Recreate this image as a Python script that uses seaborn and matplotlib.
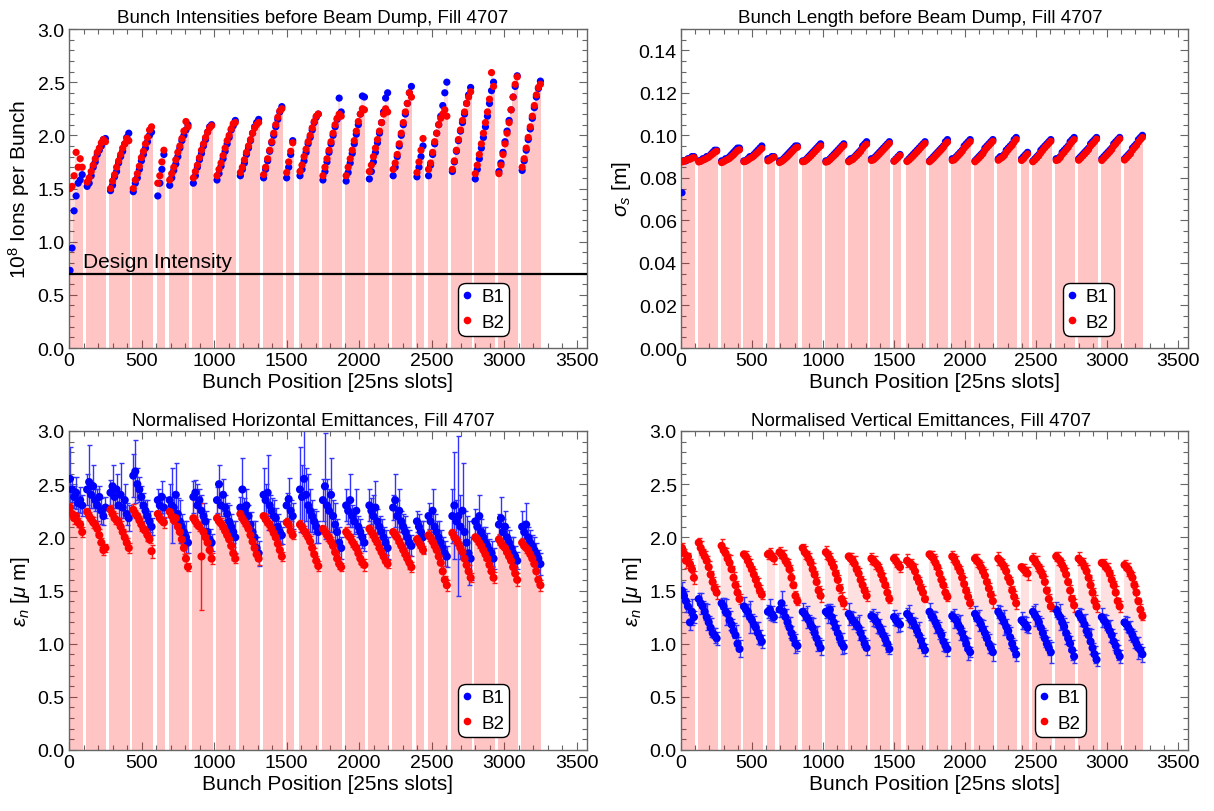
import numpy as np
import pandas as pd
import matplotlib
matplotlib.use("Agg")
import matplotlib.pyplot as plt
from matplotlib.lines import Line2D
from matplotlib.ticker import MultipleLocator
import seaborn as sns

# ---------------------------------------------------------------------------
# Filling scheme of fill 4707: first 25 ns slot of every train and the number
# of bunches in it; bunches inside a train sit BUNCH_STEP slots apart.
# ---------------------------------------------------------------------------
TRAIN_START = [7, 125, 286, 443, 612, 694, 857, 1020, 1181, 1341, 1500,
               1592, 1750, 1910, 2070, 2234, 2398, 2478, 2642, 2800, 2963, 3123]
TRAIN_BUNCHES = [7, 10, 10, 10, 4, 10, 10, 10, 10, 10, 4,
                 10, 10, 10, 10, 10, 4, 10, 10, 10, 10, 10]
BUNCH_STEP = 14

DESIGN_INTENSITY = 0.7

# Bunch intensities before dump [1e8 ions], one list per train
INTENSITY_B1 = [
    [0.73, 0.94, 1.29, 1.43, 1.55, 1.58, 1.63],
    [1.52, 1.55, 1.62, 1.70, 1.75, 1.82, 1.86, 1.90, 1.96, 1.97],
    [1.48, 1.53, 1.61, 1.66, 1.74, 1.80, 1.85, 1.92, 1.98, 2.02],
    [1.47, 1.55, 1.60, 1.68, 1.76, 1.82, 1.88, 1.94, 2.00, 2.03],
    [1.43, 1.55, 1.68, 1.82],
    [1.53, 1.60, 1.67, 1.73, 1.80, 1.88, 1.95, 2.00, 2.05, 2.10],
    [1.55, 1.62, 1.70, 1.77, 1.83, 1.90, 1.96, 2.03, 2.08, 2.10],
    [1.58, 1.64, 1.71, 1.78, 1.85, 1.92, 1.98, 2.05, 2.09, 2.14],
    [1.62, 1.68, 1.74, 1.82, 1.88, 1.95, 2.02, 2.08, 2.12, 2.15],
    [1.60, 1.68, 1.76, 1.85, 1.93, 2.00, 2.08, 2.15, 2.22, 2.27],
    [1.60, 1.70, 1.82, 1.95],
    [1.62, 1.68, 1.76, 1.84, 1.92, 1.98, 2.05, 2.12, 2.17, 2.20],
    [1.58, 1.66, 1.75, 1.84, 1.92, 2.00, 2.08, 2.15, 2.35, 2.22],
    [1.57, 1.65, 1.74, 1.83, 1.92, 2.01, 2.10, 2.20, 2.37, 2.36],
    [1.59, 1.66, 1.75, 1.84, 1.93, 2.02, 2.12, 2.22, 2.35, 2.40],
    [1.62, 1.70, 1.80, 1.90, 2.00, 2.10, 2.20, 2.30, 2.40, 2.46],
    [1.61, 1.70, 1.80, 1.90],
    [1.62, 1.72, 1.82, 1.92, 2.02, 2.10, 2.18, 2.28, 2.40, 2.50],
    [1.66, 1.75, 1.85, 1.95, 2.04, 2.12, 2.20, 2.30, 2.38, 2.45],
    [1.59, 1.68, 1.78, 1.88, 1.98, 2.08, 2.18, 2.30, 2.42, 2.50],
    [1.66, 1.74, 1.84, 1.94, 2.04, 2.14, 2.24, 2.36, 2.46, 2.56],
    [1.67, 1.76, 1.86, 1.96, 2.06, 2.16, 2.26, 2.36, 2.44, 2.51],
]
INTENSITY_B2 = [
    [1.50, 1.52, 1.62, 1.84, 1.70, 1.78, 1.70],
    [1.56, 1.60, 1.66, 1.72, 1.78, 1.84, 1.88, 1.93, 1.96, 1.94],
    [1.50, 1.57, 1.63, 1.70, 1.76, 1.82, 1.88, 1.92, 1.97, 1.95],
    [1.50, 1.58, 1.64, 1.71, 1.79, 1.85, 1.92, 1.98, 2.05, 2.08],
    [1.55, 1.62, 1.75, 1.86],
    [1.58, 1.64, 1.70, 1.77, 1.84, 1.90, 1.97, 2.04, 2.13, 2.08],
    [1.60, 1.66, 1.72, 1.79, 1.86, 1.92, 1.98, 2.03, 2.07, 2.09],
    [1.62, 1.68, 1.74, 1.81, 1.88, 1.95, 2.00, 2.06, 2.11, 2.12],
    [1.65, 1.70, 1.77, 1.84, 1.90, 1.96, 2.02, 2.07, 2.10, 2.12],
    [1.63, 1.70, 1.78, 1.86, 1.94, 2.02, 2.10, 2.17, 2.23, 2.25],
    [1.65, 1.75, 1.85, 1.93],
    [1.66, 1.72, 1.80, 1.87, 1.94, 2.00, 2.07, 2.13, 2.18, 2.20],
    [1.62, 1.70, 1.78, 1.86, 1.94, 2.02, 2.10, 2.16, 2.20, 2.18],
    [1.62, 1.70, 1.78, 1.86, 1.95, 2.04, 2.13, 2.20, 2.25, 2.24],
    [1.66, 1.72, 1.80, 1.88, 1.96, 2.04, 2.12, 2.20, 2.25, 2.22],
    [1.68, 1.74, 1.82, 1.92, 2.02, 2.12, 2.22, 2.30, 2.40, 2.36],
    [1.65, 1.75, 1.86, 1.97],
    [1.68, 1.74, 1.84, 1.94, 2.02, 2.10, 2.16, 2.20, 2.24, 2.18],
    [1.68, 1.76, 1.86, 1.96, 2.05, 2.14, 2.22, 2.30, 2.36, 2.41],
    [1.64, 1.72, 1.82, 1.92, 2.02, 2.12, 2.22, 2.34, 2.59, 2.46],
    [1.64, 1.72, 1.82, 1.92, 2.02, 2.12, 2.24, 2.36, 2.48, 2.55],
    [1.70, 1.78, 1.88, 1.98, 2.08, 2.18, 2.28, 2.38, 2.45, 2.48],
]

# Bunch length sigma_s [m]
LENGTH_B1 = [
    [0.073, 0.088, 0.088, 0.089, 0.089, 0.090, 0.090],
    [0.088, 0.088, 0.089, 0.089, 0.090, 0.090, 0.091, 0.092, 0.093, 0.093],
    [0.088, 0.088, 0.089, 0.089, 0.090, 0.091, 0.092, 0.093, 0.094, 0.094],
    [0.088, 0.088, 0.089, 0.090, 0.090, 0.091, 0.092, 0.093, 0.094, 0.095],
    [0.089, 0.089, 0.090, 0.090],
    [0.088, 0.088, 0.089, 0.090, 0.091, 0.092, 0.093, 0.094, 0.095, 0.095],
    [0.088, 0.088, 0.089, 0.090, 0.091, 0.092, 0.093, 0.094, 0.095, 0.096],
    [0.088, 0.088, 0.089, 0.090, 0.091, 0.092, 0.093, 0.094, 0.095, 0.096],
    [0.088, 0.089, 0.089, 0.090, 0.091, 0.092, 0.093, 0.095, 0.096, 0.097],
    [0.089, 0.089, 0.090, 0.091, 0.092, 0.093, 0.094, 0.095, 0.096, 0.097],
    [0.088, 0.089, 0.090, 0.091],
    [0.088, 0.089, 0.090, 0.091, 0.092, 0.093, 0.094, 0.095, 0.096, 0.097],
    [0.088, 0.089, 0.090, 0.091, 0.092, 0.093, 0.094, 0.095, 0.097, 0.098],
    [0.089, 0.089, 0.090, 0.091, 0.092, 0.093, 0.095, 0.096, 0.097, 0.098],
    [0.088, 0.089, 0.090, 0.091, 0.092, 0.094, 0.095, 0.096, 0.097, 0.098],
    [0.089, 0.090, 0.090, 0.091, 0.093, 0.094, 0.095, 0.096, 0.098, 0.099],
    [0.089, 0.090, 0.091, 0.092],
    [0.088, 0.089, 0.090, 0.091, 0.093, 0.094, 0.095, 0.096, 0.097, 0.098],
    [0.089, 0.089, 0.090, 0.092, 0.093, 0.094, 0.095, 0.097, 0.098, 0.099],
    [0.089, 0.090, 0.091, 0.092, 0.093, 0.094, 0.096, 0.097, 0.098, 0.099],
    [0.089, 0.090, 0.091, 0.092, 0.093, 0.094, 0.096, 0.097, 0.098, 0.099],
    [0.089, 0.090, 0.091, 0.092, 0.094, 0.095, 0.096, 0.098, 0.099, 0.100],
]
LENGTH_B2 = [
    [0.0875, 0.0878, 0.0882, 0.0885, 0.0888, 0.0893, 0.0895],
    [0.0875, 0.0878, 0.0883, 0.0887, 0.0892, 0.0897, 0.0905, 0.0912, 0.0920, 0.0925],
    [0.0872, 0.0876, 0.0882, 0.0886, 0.0892, 0.0900, 0.0908, 0.0918, 0.0928, 0.0932],
    [0.0876, 0.0879, 0.0884, 0.0891, 0.0896, 0.0903, 0.0912, 0.0920, 0.0930, 0.0938],
    [0.0880, 0.0885, 0.0892, 0.0897],
    [0.0872, 0.0877, 0.0884, 0.0892, 0.0900, 0.0910, 0.0920, 0.0930, 0.0940, 0.0944],
    [0.0876, 0.0878, 0.0885, 0.0893, 0.0902, 0.0912, 0.0922, 0.0932, 0.0942, 0.0950],
    [0.0874, 0.0877, 0.0885, 0.0894, 0.0903, 0.0912, 0.0922, 0.0933, 0.0943, 0.0952],
    [0.0876, 0.0882, 0.0886, 0.0895, 0.0904, 0.0913, 0.0924, 0.0938, 0.0950, 0.0958],
    [0.0882, 0.0885, 0.0893, 0.0902, 0.0912, 0.0922, 0.0932, 0.0942, 0.0952, 0.0962],
    [0.0878, 0.0886, 0.0895, 0.0905],
    [0.0877, 0.0884, 0.0893, 0.0902, 0.0912, 0.0922, 0.0932, 0.0943, 0.0953, 0.0962],
    [0.0876, 0.0884, 0.0893, 0.0903, 0.0913, 0.0923, 0.0933, 0.0944, 0.0958, 0.0968],
    [0.0882, 0.0885, 0.0894, 0.0904, 0.0914, 0.0925, 0.0940, 0.0950, 0.0960, 0.0970],
    [0.0876, 0.0884, 0.0893, 0.0903, 0.0914, 0.0930, 0.0942, 0.0952, 0.0962, 0.0972],
    [0.0883, 0.0890, 0.0896, 0.0905, 0.0920, 0.0932, 0.0943, 0.0953, 0.0968, 0.0980],
    [0.0882, 0.0890, 0.0902, 0.0912],
    [0.0876, 0.0884, 0.0894, 0.0904, 0.0918, 0.0930, 0.0942, 0.0952, 0.0962, 0.0972],
    [0.0882, 0.0885, 0.0895, 0.0910, 0.0920, 0.0932, 0.0943, 0.0958, 0.0970, 0.0980],
    [0.0883, 0.0892, 0.0902, 0.0912, 0.0922, 0.0933, 0.0950, 0.0960, 0.0970, 0.0982],
    [0.0882, 0.0892, 0.0902, 0.0912, 0.0922, 0.0933, 0.0950, 0.0960, 0.0972, 0.0983],
    [0.0884, 0.0893, 0.0903, 0.0913, 0.0930, 0.0942, 0.0952, 0.0968, 0.0980, 0.0990],
]

# Normalised horizontal emittance [um] and its uncertainty
EMIT_H_B1 = [
    [2.55, 2.45, 2.38, 2.42, 2.32, 2.35, 2.30],
    [2.45, 2.52, 2.40, 2.48, 2.35, 2.30, 2.38, 2.25, 2.20, 2.28],
    [2.42, 2.48, 2.38, 2.45, 2.30, 2.40, 2.28, 2.35, 2.22, 2.18],
    [2.58, 2.62, 2.50, 2.45, 2.38, 2.30, 2.25, 2.20, 2.15, 2.10],
    [2.35, 2.30, 2.38, 2.28],
    [2.35, 2.30, 2.28, 2.40, 2.22, 2.15, 2.10, 2.05, 2.00, 1.95],
    [2.38, 2.42, 2.30, 2.35, 2.25, 2.20, 2.15, 2.05, 1.98, 1.95],
    [2.35, 2.50, 2.30, 2.40, 2.28, 2.22, 2.15, 2.10, 2.05, 2.00],
    [2.28, 2.45, 2.25, 2.30, 2.20, 2.12, 2.05, 2.00, 1.90, 1.85],
    [2.40, 2.35, 2.42, 2.30, 2.25, 2.20, 2.18, 2.10, 2.05, 2.02],
    [2.30, 2.36, 2.25, 2.20],
    [2.45, 2.38, 2.55, 2.40, 2.30, 2.25, 2.20, 2.15, 2.10, 2.05],
    [2.35, 2.48, 2.30, 2.25, 2.40, 2.20, 2.12, 2.05, 1.95, 1.90],
    [2.30, 2.25, 2.35, 2.20, 2.15, 2.25, 2.10, 2.05, 2.00, 1.95],
    [2.30, 2.25, 2.20, 2.28, 2.15, 2.10, 2.05, 2.00, 1.95, 1.90],
    [2.28, 2.35, 2.20, 2.25, 2.15, 2.10, 2.05, 2.00, 1.95, 1.92],
    [2.15, 2.10, 2.05, 2.00],
    [2.20, 2.15, 2.25, 2.10, 2.05, 2.00, 1.95, 1.90, 1.85, 1.82],
    [2.20, 2.30, 2.15, 2.20, 2.10, 2.25, 2.05, 1.95, 1.85, 1.80],
    [2.15, 2.10, 2.20, 2.05, 2.00, 1.95, 1.92, 1.88, 1.85, 1.80],
    [2.12, 2.18, 2.05, 2.10, 2.00, 1.95, 1.90, 1.85, 1.82, 1.78],
    [2.10, 2.05, 2.12, 2.00, 1.95, 1.92, 1.88, 1.85, 1.80, 1.75],
]
EMIT_H_B1_ERR = [
    [0.30, 0.12, 0.10, 0.15, 0.08, 0.12, 0.10],
    [0.15, 0.35, 0.12, 0.20, 0.10, 0.15, 0.10, 0.12, 0.08, 0.10],
    [0.12, 0.20, 0.10, 0.15, 0.12, 0.30, 0.10, 0.15, 0.10, 0.12],
    [0.20, 0.30, 0.15, 0.12, 0.10, 0.12, 0.10, 0.15, 0.10, 0.08],
    [0.10, 0.12, 0.15, 0.10],
    [0.15, 0.35, 0.12, 0.30, 0.15, 0.20, 0.12, 0.10, 0.15, 0.10],
    [0.15, 0.12, 0.20, 0.10, 0.15, 0.12, 0.10, 0.12, 0.10, 0.08],
    [0.12, 0.18, 0.10, 0.15, 0.12, 0.10, 0.15, 0.12, 0.10, 0.15],
    [0.10, 0.30, 0.12, 0.15, 0.10, 0.12, 0.10, 0.15, 0.10, 0.12],
    [0.25, 0.15, 0.35, 0.10, 0.12, 0.15, 0.10, 0.12, 0.10, 0.08],
    [0.12, 0.20, 0.10, 0.12],
    [0.40, 0.30, 0.50, 0.25, 0.30, 0.20, 0.15, 0.12, 0.15, 0.10],
    [0.20, 0.50, 0.25, 0.20, 0.35, 0.15, 0.20, 0.12, 0.15, 0.10],
    [0.15, 0.12, 0.25, 0.10, 0.12, 0.20, 0.10, 0.12, 0.10, 0.08],
    [0.15, 0.12, 0.20, 0.25, 0.12, 0.10, 0.12, 0.10, 0.12, 0.10],
    [0.12, 0.25, 0.15, 0.20, 0.10, 0.12, 0.15, 0.10, 0.12, 0.10],
    [0.10, 0.12, 0.10, 0.15],
    [0.12, 0.10, 0.20, 0.12, 0.10, 0.15, 0.12, 0.10, 0.12, 0.10],
    [0.25, 0.50, 0.20, 0.75, 0.30, 0.45, 0.20, 0.25, 0.30, 0.20],
    [0.12, 0.10, 0.20, 0.12, 0.10, 0.15, 0.12, 0.10, 0.12, 0.10],
    [0.10, 0.20, 0.12, 0.15, 0.10, 0.12, 0.10, 0.15, 0.10, 0.08],
    [0.15, 0.10, 0.20, 0.10, 0.12, 0.10, 0.12, 0.10, 0.08, 0.10],
]
EMIT_H_B2 = [
    [2.28, 2.22, 2.18, 2.20, 2.14, 2.12, 2.05],
    [2.24, 2.20, 2.17, 2.14, 2.12, 2.08, 2.02, 1.95, 1.88, 1.90],
    [2.26, 2.22, 2.18, 2.16, 2.14, 2.10, 2.05, 2.00, 1.95, 1.90],
    [2.26, 2.22, 2.20, 2.16, 2.12, 2.08, 2.06, 2.02, 1.98, 1.87],
    [2.22, 2.18, 2.16, 2.14],
    [2.24, 2.20, 2.16, 2.18, 2.10, 2.05, 1.98, 1.90, 1.80, 1.72],
    [2.18, 2.15, 2.12, 2.10, 1.82, 2.05, 2.00, 1.95, 1.88, 1.80],
    [2.18, 2.15, 2.13, 2.10, 2.06, 2.02, 1.98, 1.92, 1.85, 1.80],
    [2.22, 2.18, 2.15, 2.12, 2.08, 2.02, 1.96, 1.90, 1.84, 1.80],
    [2.20, 2.17, 2.14, 2.12, 2.08, 2.04, 2.00, 1.94, 1.88, 1.82],
    [2.14, 2.12, 2.06, 2.02],
    [2.12, 2.10, 2.06, 2.04, 2.00, 1.96, 1.90, 1.84, 1.78, 1.73],
    [2.08, 2.05, 2.02, 2.00, 1.96, 1.92, 1.86, 1.80, 1.75, 1.72],
    [2.05, 2.02, 2.00, 1.96, 1.93, 1.90, 1.85, 1.80, 1.76, 1.74],
    [2.08, 2.05, 2.02, 1.98, 1.95, 1.90, 1.86, 1.82, 1.78, 1.75],
    [2.05, 2.02, 2.00, 1.96, 1.92, 1.88, 1.84, 1.80, 1.76, 1.72],
    [1.98, 1.95, 1.92, 1.88],
    [2.02, 2.00, 1.96, 1.92, 1.88, 1.82, 1.76, 1.68, 1.60, 1.55],
    [2.04, 2.00, 1.98, 1.94, 1.90, 1.86, 1.80, 1.74, 1.68, 1.62],
    [2.00, 1.98, 1.95, 1.92, 1.88, 1.84, 1.80, 1.74, 1.68, 1.62],
    [1.98, 1.95, 1.92, 1.90, 1.86, 1.82, 1.78, 1.72, 1.66, 1.60],
    [1.95, 1.92, 1.90, 1.88, 1.84, 1.80, 1.75, 1.68, 1.60, 1.55],
]
EMIT_H_B2_ERR = [
    [0.04, 0.03, 0.05, 0.03, 0.04, 0.03, 0.05],
    [0.03, 0.04, 0.03, 0.05, 0.03, 0.04, 0.06, 0.04, 0.05, 0.04],
    [0.04, 0.03, 0.05, 0.03, 0.04, 0.05, 0.03, 0.06, 0.04, 0.05],
    [0.05, 0.04, 0.03, 0.04, 0.06, 0.03, 0.04, 0.05, 0.03, 0.06],
    [0.03, 0.04, 0.03, 0.05],
    [0.04, 0.05, 0.03, 0.04, 0.03, 0.05, 0.04, 0.06, 0.05, 0.04],
    [0.03, 0.04, 0.03, 0.04, 0.50, 0.04, 0.03, 0.05, 0.04, 0.05],
    [0.04, 0.03, 0.05, 0.04, 0.03, 0.04, 0.05, 0.03, 0.06, 0.04],
    [0.05, 0.03, 0.04, 0.03, 0.05, 0.04, 0.03, 0.05, 0.04, 0.06],
    [0.03, 0.05, 0.04, 0.03, 0.04, 0.06, 0.04, 0.03, 0.05, 0.04],
    [0.04, 0.03, 0.05, 0.04],
    [0.04, 0.03, 0.05, 0.04, 0.03, 0.05, 0.04, 0.06, 0.04, 0.05],
    [0.03, 0.04, 0.05, 0.03, 0.04, 0.03, 0.06, 0.04, 0.05, 0.04],
    [0.05, 0.04, 0.03, 0.05, 0.04, 0.03, 0.04, 0.05, 0.04, 0.06],
    [0.04, 0.05, 0.03, 0.04, 0.05, 0.04, 0.03, 0.06, 0.05, 0.04],
    [0.03, 0.04, 0.05, 0.03, 0.04, 0.05, 0.04, 0.03, 0.06, 0.05],
    [0.04, 0.05, 0.03, 0.04],
    [0.05, 0.03, 0.04, 0.05, 0.03, 0.04, 0.06, 0.05, 0.04, 0.05],
    [0.04, 0.05, 0.03, 0.04, 0.05, 0.03, 0.04, 0.05, 0.06, 0.04],
    [0.03, 0.04, 0.05, 0.04, 0.03, 0.05, 0.04, 0.06, 0.04, 0.05],
    [0.05, 0.04, 0.03, 0.05, 0.04, 0.03, 0.05, 0.04, 0.05, 0.06],
    [0.04, 0.03, 0.05, 0.04, 0.03, 0.04, 0.05, 0.06, 0.04, 0.05],
]

# Normalised vertical emittance [um] and its uncertainty
EMIT_V_B1 = [
    [1.50, 1.45, 1.40, 1.35, 1.20, 1.30, 1.25],
    [1.42, 1.38, 1.35, 1.30, 1.25, 1.20, 1.15, 1.10, 1.08, 1.05],
    [1.38, 1.35, 1.30, 1.28, 1.22, 1.18, 1.12, 1.08, 1.00, 0.95],
    [1.35, 1.32, 1.30, 1.25, 1.22, 1.18, 1.15, 1.10, 1.06, 1.02],
    [1.30, 1.32, 1.28, 1.25],
    [1.32, 1.38, 1.30, 1.25, 1.20, 1.15, 1.10, 1.05, 1.00, 0.98],
    [1.30, 1.28, 1.25, 1.22, 1.18, 1.15, 1.10, 1.05, 1.00, 0.96],
    [1.30, 1.28, 1.32, 1.25, 1.20, 1.15, 1.10, 1.05, 1.00, 0.97],
    [1.28, 1.25, 1.22, 1.20, 1.18, 1.15, 1.10, 1.05, 1.00, 0.96],
    [1.26, 1.25, 1.22, 1.20, 1.16, 1.12, 1.08, 1.04, 1.00, 0.95],
    [1.25, 1.22, 1.20, 1.18],
    [1.28, 1.26, 1.22, 1.20, 1.16, 1.12, 1.08, 1.03, 0.98, 0.94],
    [1.30, 1.26, 1.24, 1.20, 1.16, 1.12, 1.08, 1.02, 0.98, 0.95],
    [1.26, 1.24, 1.22, 1.18, 1.15, 1.10, 1.05, 1.00, 0.95, 0.92],
    [1.28, 1.24, 1.22, 1.18, 1.14, 1.10, 1.05, 1.00, 0.96, 0.92],
    [1.30, 1.27, 1.24, 1.20, 1.16, 1.12, 1.06, 1.00, 0.95, 0.90],
    [1.22, 1.20, 1.18, 1.15],
    [1.30, 1.27, 1.24, 1.20, 1.15, 1.10, 1.05, 1.00, 0.96, 0.92],
    [1.32, 1.28, 1.25, 1.20, 1.16, 1.10, 1.05, 1.00, 0.94, 0.88],
    [1.28, 1.25, 1.22, 1.18, 1.12, 1.08, 1.02, 0.96, 0.90, 0.85],
    [1.25, 1.22, 1.20, 1.16, 1.12, 1.08, 1.02, 0.98, 0.92, 0.88],
    [1.20, 1.18, 1.15, 1.12, 1.08, 1.04, 1.00, 0.96, 0.94, 0.90],
]
EMIT_V_B1_ERR = [
    [0.08, 0.06, 0.10, 0.05, 0.07, 0.12, 0.06],
    [0.06, 0.10, 0.05, 0.08, 0.12, 0.06, 0.09, 0.05, 0.07, 0.06],
    [0.05, 0.08, 0.12, 0.06, 0.09, 0.05, 0.07, 0.10, 0.06, 0.08],
    [0.09, 0.05, 0.07, 0.15, 0.06, 0.08, 0.05, 0.10, 0.07, 0.06],
    [0.06, 0.10, 0.07, 0.05],
    [0.07, 0.12, 0.06, 0.08, 0.05, 0.10, 0.07, 0.06, 0.09, 0.05],
    [0.08, 0.06, 0.10, 0.05, 0.07, 0.09, 0.06, 0.12, 0.05, 0.07],
    [0.06, 0.09, 0.05, 0.10, 0.07, 0.06, 0.08, 0.05, 0.10, 0.06],
    [0.10, 0.06, 0.08, 0.05, 0.07, 0.12, 0.06, 0.08, 0.05, 0.07],
    [0.05, 0.08, 0.06, 0.10, 0.07, 0.05, 0.09, 0.06, 0.08, 0.05],
    [0.07, 0.05, 0.09, 0.06],
    [0.06, 0.10, 0.07, 0.05, 0.08, 0.06, 0.12, 0.05, 0.07, 0.06],
    [0.08, 0.05, 0.07, 0.10, 0.06, 0.08, 0.05, 0.09, 0.06, 0.07],
    [0.05, 0.09, 0.06, 0.08, 0.12, 0.05, 0.07, 0.06, 0.10, 0.05],
    [0.07, 0.06, 0.10, 0.05, 0.08, 0.07, 0.06, 0.09, 0.05, 0.08],
    [0.06, 0.08, 0.05, 0.12, 0.07, 0.06, 0.10, 0.05, 0.08, 0.06],
    [0.08, 0.06, 0.07, 0.05],
    [0.05, 0.10, 0.07, 0.06, 0.09, 0.05, 0.08, 0.06, 0.07, 0.10],
    [0.07, 0.05, 0.12, 0.06, 0.08, 0.10, 0.05, 0.07, 0.09, 0.06],
    [0.06, 0.08, 0.05, 0.10, 0.06, 0.07, 0.12, 0.05, 0.08, 0.06],
    [0.09, 0.06, 0.07, 0.05, 0.10, 0.06, 0.08, 0.05, 0.07, 0.06],
    [0.06, 0.07, 0.05, 0.09, 0.06, 0.08, 0.05, 0.10, 0.06, 0.07],
]
EMIT_V_B2 = [
    [1.90, 1.85, 1.78, 1.82, 1.75, 1.70, 1.62],
    [1.95, 1.90, 1.86, 1.82, 1.78, 1.72, 1.65, 1.58, 1.52, 1.48],
    [1.92, 1.88, 1.85, 1.80, 1.76, 1.70, 1.62, 1.55, 1.48, 1.42],
    [1.84, 1.82, 1.78, 1.74, 1.70, 1.65, 1.60, 1.55, 1.50, 1.46],
    [1.84, 1.85, 1.82, 1.80],
    [1.86, 1.84, 1.82, 1.78, 1.75, 1.70, 1.62, 1.55, 1.45, 1.40],
    [1.90, 1.86, 1.84, 1.80, 1.76, 1.70, 1.65, 1.58, 1.50, 1.45],
    [1.86, 1.84, 1.80, 1.76, 1.72, 1.66, 1.60, 1.52, 1.42, 1.38],
    [1.82, 1.80, 1.78, 1.75, 1.70, 1.66, 1.60, 1.55, 1.50, 1.45],
    [1.80, 1.78, 1.76, 1.74, 1.70, 1.65, 1.60, 1.55, 1.48, 1.42],
    [1.80, 1.78, 1.75, 1.72],
    [1.78, 1.76, 1.75, 1.72, 1.68, 1.62, 1.58, 1.52, 1.48, 1.42],
    [1.84, 1.82, 1.80, 1.76, 1.72, 1.66, 1.60, 1.55, 1.48, 1.44],
    [1.82, 1.80, 1.76, 1.72, 1.68, 1.62, 1.56, 1.50, 1.44, 1.38],
    [1.80, 1.78, 1.76, 1.72, 1.68, 1.64, 1.58, 1.52, 1.46, 1.40],
    [1.80, 1.78, 1.75, 1.72, 1.68, 1.62, 1.58, 1.50, 1.44, 1.38],
    [1.72, 1.70, 1.68, 1.66],
    [1.80, 1.78, 1.75, 1.72, 1.68, 1.64, 1.58, 1.50, 1.42, 1.35],
    [1.82, 1.80, 1.78, 1.74, 1.70, 1.65, 1.58, 1.50, 1.42, 1.36],
    [1.80, 1.78, 1.76, 1.72, 1.68, 1.62, 1.55, 1.48, 1.40, 1.35],
    [1.76, 1.75, 1.72, 1.70, 1.66, 1.60, 1.55, 1.48, 1.40, 1.35],
    [1.74, 1.72, 1.70, 1.66, 1.62, 1.55, 1.48, 1.40, 1.32, 1.26],
]
EMIT_V_B2_ERR = [
    [0.05, 0.04, 0.07, 0.03, 0.05, 0.04, 0.06],
    [0.04, 0.07, 0.03, 0.05, 0.04, 0.06, 0.03, 0.05, 0.04, 0.06],
    [0.06, 0.03, 0.05, 0.04, 0.07, 0.03, 0.05, 0.04, 0.06, 0.05],
    [0.03, 0.05, 0.04, 0.06, 0.03, 0.05, 0.04, 0.07, 0.05, 0.04],
    [0.04, 0.05, 0.03, 0.05],
    [0.05, 0.04, 0.06, 0.03, 0.05, 0.04, 0.07, 0.03, 0.05, 0.04],
    [0.04, 0.06, 0.03, 0.05, 0.04, 0.06, 0.03, 0.05, 0.04, 0.06],
    [0.06, 0.03, 0.05, 0.04, 0.06, 0.03, 0.05, 0.04, 0.07, 0.05],
    [0.03, 0.05, 0.04, 0.07, 0.03, 0.05, 0.04, 0.06, 0.03, 0.05],
    [0.05, 0.04, 0.06, 0.03, 0.05, 0.04, 0.06, 0.03, 0.05, 0.04],
    [0.04, 0.06, 0.03, 0.05],
    [0.06, 0.03, 0.05, 0.04, 0.07, 0.03, 0.05, 0.04, 0.06, 0.03],
    [0.03, 0.05, 0.04, 0.06, 0.03, 0.05, 0.04, 0.06, 0.05, 0.04],
    [0.05, 0.04, 0.06, 0.03, 0.05, 0.04, 0.07, 0.03, 0.05, 0.04],
    [0.04, 0.06, 0.03, 0.05, 0.04, 0.06, 0.03, 0.05, 0.04, 0.06],
    [0.06, 0.03, 0.05, 0.04, 0.06, 0.03, 0.05, 0.04, 0.06, 0.05],
    [0.03, 0.05, 0.04, 0.06],
    [0.05, 0.04, 0.07, 0.03, 0.05, 0.04, 0.06, 0.03, 0.05, 0.04],
    [0.04, 0.06, 0.03, 0.05, 0.04, 0.06, 0.03, 0.05, 0.04, 0.06],
    [0.06, 0.03, 0.05, 0.04, 0.06, 0.03, 0.05, 0.04, 0.06, 0.05],
    [0.03, 0.05, 0.04, 0.06, 0.03, 0.05, 0.04, 0.06, 0.03, 0.05],
    [0.05, 0.04, 0.06, 0.03, 0.05, 0.04, 0.06, 0.03, 0.05, 0.04],
]

X_TICKS = [0, 500, 1000, 1500, 2000, 2500, 3000, 3500]
X_MAX = 3570
BEAM_COLORS = {"B1": (0.0, 0.0, 1.0), "B2": (1.0, 0.0, 0.0)}
FILL_COLOR = (1.0, 0.0, 0.0)

# ---------------------------------------------------------------------------
sns.set_theme(style="ticks")
plt.rcParams["font.family"] = ["Liberation Sans", "DejaVu Sans"]
plt.rcParams["mathtext.fontset"] = "custom"
plt.rcParams["mathtext.rm"] = "Liberation Sans"
plt.rcParams["mathtext.it"] = "Liberation Sans:italic"
plt.rcParams["mathtext.bf"] = "Liberation Sans:bold"
plt.rcParams["text.color"] = "black"
plt.rcParams["axes.labelcolor"] = "black"
plt.rcParams["axes.titlecolor"] = "black"

FRAME = "#666666"
TICK_FS = 14
LABEL_FS = 15
TITLE_FS = 13.5
LEGEND_FS = 13.5


def flat(per_train):
    for vals, n in zip(per_train, TRAIN_BUNCHES):
        assert len(vals) == n
    return np.concatenate([np.asarray(v, float) for v in per_train])


TRAIN_SLOTS = [start + BUNCH_STEP * np.arange(n) for start, n in zip(TRAIN_START, TRAIN_BUNCHES)]
SLOTS = np.concatenate(TRAIN_SLOTS)


def style_axes(ax, ymax, ymajor, yminor, yfmt):
    ax.set_xlim(0, X_MAX)
    ax.set_ylim(0, ymax)
    ax.set_xticks(X_TICKS)
    ax.xaxis.set_minor_locator(MultipleLocator(100))
    ax.yaxis.set_major_locator(MultipleLocator(ymajor))
    ax.yaxis.set_minor_locator(MultipleLocator(yminor))
    ax.yaxis.set_major_formatter(plt.FormatStrFormatter(yfmt))
    ax.tick_params(which="both", direction="in", top=True, right=True,
                   colors=FRAME, labelcolor="black", labelsize=TICK_FS, width=0.8, pad=3)
    ax.tick_params(which="major", length=6)
    ax.tick_params(which="minor", length=3.5)
    for sp in ax.spines.values():
        sp.set_color(FRAME)
        sp.set_linewidth(1.0)
    ax.set_xlabel("Bunch Position [25ns slots]", fontsize=LABEL_FS, labelpad=2,
                  color="black")


def draw_panel(ax, b1, b2, err1=None, err2=None, size=24):
    y1, y2 = flat(b1), flat(b2)
    # filling from every bunch down to the axis, one step polygon per train
    for per_train in (b1, b2):
        for xs, vals in zip(TRAIN_SLOTS, per_train):
            edges = np.append(xs - BUNCH_STEP / 2, xs[-1] + BUNCH_STEP / 2)
            ax.stairs(vals, edges, baseline=0, fill=True, color=FILL_COLOR,
                      alpha=0.12, linewidth=0, zorder=1)
    if err1 is not None:
        ax.errorbar(SLOTS, y1, yerr=flat(err1), fmt="none", ecolor=(0.2, 0.2, 1.0),
                    elinewidth=1.0, capsize=1.8, capthick=1.0, zorder=2)
        ax.errorbar(SLOTS, y2, yerr=flat(err2), fmt="none", ecolor=(1.0, 0.1, 0.1),
                    elinewidth=1.0, capsize=1.8, capthick=1.0, zorder=2.1)
    df = pd.DataFrame({
        "slot": np.concatenate([SLOTS, SLOTS]),
        "value": np.concatenate([y1, y2]),
        "beam": ["B1"] * len(SLOTS) + ["B2"] * len(SLOTS),
    })
    sns.scatterplot(data=df, x="slot", y="value", hue="beam", palette=BEAM_COLORS,
                    s=size, linewidth=0, edgecolor="none", legend=False, ax=ax, zorder=3)


def beam_legend(ax, x0, y0):
    handles = [Line2D([], [], marker="o", linestyle="none", color=BEAM_COLORS[b],
                      markersize=4.5, label=b) for b in ("B1", "B2")]
    leg = ax.legend(handles=handles, loc="lower left", bbox_to_anchor=(x0, y0),
                    borderaxespad=0, fontsize=LEGEND_FS, frameon=True, fancybox=True,
                    framealpha=1.0, edgecolor="black", handlelength=0.4,
                    handletextpad=0.55, labelspacing=0.45, borderpad=0.28)
    for txt in leg.get_texts():
        txt.set_color("black")
    frame = leg.get_frame()
    frame.set_linewidth(1.0)
    frame.set_boxstyle("round", pad=0, rounding_size=0.4)
    leg.set_zorder(10)


fig = plt.figure(figsize=(12.14, 8.12), dpi=100)
W, H = 1214.0, 812.0


def add_axes(left, top, right, bottom):
    return fig.add_axes([left / W, 1 - bottom / H, (right - left) / W, (bottom - top) / H])


ax_int = add_axes(69, 30, 587, 349)
ax_len = add_axes(681, 30, 1188, 349)
ax_eh = add_axes(69, 432, 587, 751)
ax_ev = add_axes(681, 432, 1188, 751)

# Intensities
draw_panel(ax_int, INTENSITY_B1, INTENSITY_B2, size=27)
style_axes(ax_int, 3.0, 0.5, 0.1, "%.1f")
ax_int.axhline(DESIGN_INTENSITY, color="black", lw=1.6, zorder=4)
ax_int.text(96, DESIGN_INTENSITY + 0.065, "Design Intensity", fontsize=15, va="baseline",
            ha="left", zorder=4, color="black")
ax_int.set_ylabel(r"$\mathregular{10^8}$ Ions per Bunch", fontsize=LABEL_FS, labelpad=4)
ax_int.set_title("Bunch Intensities before Beam Dump, Fill 4707", fontsize=TITLE_FS,
                 pad=5, x=0.471, color="black")
beam_legend(ax_int, 0.751, 0.038)

# Bunch length
draw_panel(ax_len, LENGTH_B1, LENGTH_B2, size=27)
style_axes(ax_len, 0.15, 0.02, 0.005, "%.2f")
ax_len.set_ylabel(r"$\sigma_s$ [m]", fontsize=LABEL_FS, labelpad=4)
ax_len.set_title("Bunch Length before Beam Dump, Fill 4707", fontsize=TITLE_FS,
                 pad=5, x=0.473, color="black")
beam_legend(ax_len, 0.753, 0.038)

# Horizontal emittance
draw_panel(ax_eh, EMIT_H_B1, EMIT_H_B2, EMIT_H_B1_ERR, EMIT_H_B2_ERR, size=34)
style_axes(ax_eh, 3.0, 0.5, 0.1, "%.1f")
ax_eh.set_ylabel(r"$\epsilon_n$ [$\mu$ m]", fontsize=LABEL_FS, labelpad=4)
ax_eh.set_title("Normalised Horizontal Emittances, Fill 4707", fontsize=TITLE_FS,
                pad=5, x=0.471, color="black")
beam_legend(ax_eh, 0.751, 0.041)

# Vertical emittance
draw_panel(ax_ev, EMIT_V_B1, EMIT_V_B2, EMIT_V_B1_ERR, EMIT_V_B2_ERR, size=34)
style_axes(ax_ev, 3.0, 0.5, 0.1, "%.1f")
ax_ev.set_ylabel(r"$\epsilon_n$ [$\mu$ m]", fontsize=LABEL_FS, labelpad=4)
ax_ev.set_title("Normalised Vertical Emittances, Fill 4707", fontsize=TITLE_FS,
                pad=5, x=0.473, color="black")
beam_legend(ax_ev, 0.698, 0.041)

fig.savefig("out.png", dpi=100, facecolor="white")
